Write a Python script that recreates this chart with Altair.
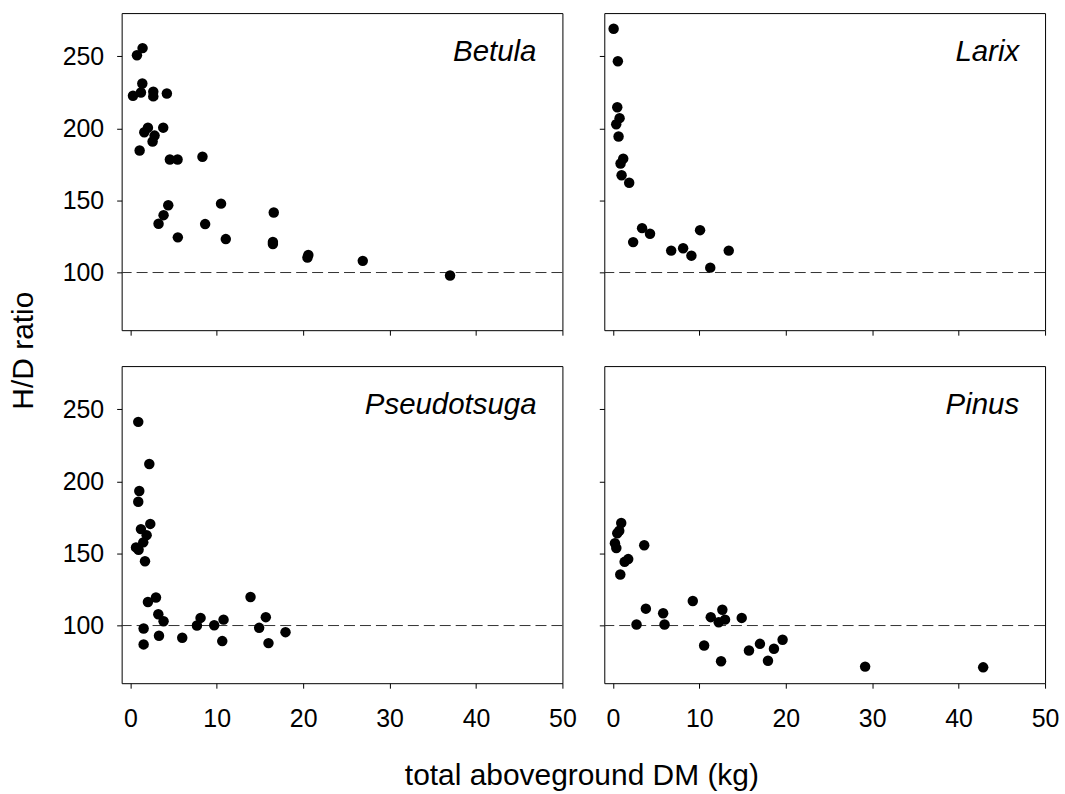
import altair as alt
import pandas as pd

# ---- data ----
betula_x = [0.77, 1.42, 1.39, 0.31, 1.23, 2.66, 2.66, 4.23, 2.04, 1.62, 3.81, 2.81, 2.58, 1.08,
            4.58, 5.47, 8.35, 4.39, 3.85, 3.27, 5.5, 8.66, 10.5, 11.05, 16.6, 16.5, 16.5,
            20.6, 20.5, 26.9, 37.0]
betula_y = [250.7, 255.7, 231.1, 222.6, 224.9, 225.4, 222.2, 224.2, 200.5, 197.3, 200.5, 195.0,
            190.9, 184.7, 178.4, 178.4, 180.3, 146.7, 139.8, 133.8, 124.4, 133.6, 147.8, 123.2,
            141.6, 121.2, 119.8, 112.2, 110.4, 108.1, 97.9]

larix_x = [0.08, 0.57, 0.5, 0.77, 0.38, 0.65, 1.19, 0.88, 1.0, 1.88, 3.37, 4.29, 2.34, 6.74,
           8.12, 9.08, 10.08, 11.26, 13.4]
larix_y = [269.1, 246.6, 214.7, 207.1, 202.9, 194.4, 179.0, 175.6, 167.5, 162.3, 130.8, 126.9,
           121.1, 115.2, 116.8, 111.7, 129.4, 103.4, 115.2]

pseudo_x = [0.92, 2.2, 1.04, 0.92, 2.31, 1.23, 1.89, 1.5, 0.66, 0.96, 1.7, 2.97, 2.04, 3.24,
            3.85, 1.54, 1.54, 3.32, 6.01, 7.71, 8.13, 9.71, 10.79, 10.64, 13.91, 15.68, 14.91,
            15.99, 17.96]
pseudo_y = [241.3, 212.1, 193.3, 185.9, 170.5, 166.9, 162.7, 157.7, 154.2, 152.6, 144.6, 119.5,
            116.3, 107.8, 103.0, 97.9, 86.9, 92.9, 91.5, 100.0, 105.3, 100.2, 104.1, 89.2,
            119.8, 105.8, 98.4, 87.8, 95.4]

pinus_x = [0.96, 0.73, 0.5, 0.23, 0.39, 3.62, 1.77, 1.35, 0.85, 3.81, 2.73, 5.81, 5.97, 9.24,
           11.32, 12.66, 12.24, 12.97, 14.9, 10.55, 12.51, 15.74, 17.01, 17.94, 18.63, 19.63,
           29.18, 42.84]
pinus_y = [171.1, 165.8, 164.0, 157.1, 153.8, 155.7, 146.1, 144.2, 135.4, 111.7, 100.7, 108.5,
           100.7, 117.0, 105.8, 111.0, 102.3, 104.1, 105.3, 86.2, 75.2, 82.7, 87.3, 75.6,
           83.9, 90.1, 71.5, 71.0]

species = ["Betula", "Larix", "Pseudotsuga", "Pinus"]
x_ticks = [0, 10, 20, 30, 40, 50]
y_ticks = [100, 150, 200, 250]
reference_line = [100]
x_title = "total aboveground DM (kg)"
y_title = "H/D ratio"

FONT = "Liberation Sans"
W, H = 442, 318


def panel(xs, ys, name, x_labels, y_labels, show_y_title=False, show_x_title=False):
    df = pd.DataFrame({"x": xs, "y": ys})
    xa = dict(values=x_ticks, labels=x_labels, labelFlush=False, labelPadding=18,
              tickSize=5, labelFontSize=25, grid=False, domain=False)
    ya = dict(values=y_ticks, labels=y_labels, labelPadding=13, tickSize=5, labelFontSize=25,
              grid=False, domain=False)
    if show_x_title:
        xa.update(title=x_title, titleX=461, titleY=93, titleBaseline="middle",
                  titleAlign="center", titleFontSize=30, titleFontWeight="normal")
    else:
        xa.update(title=None)
    if show_y_title:
        ya.update(title=y_title, titleX=-98, titleY=338, titleBaseline="middle",
                  titleAlign="center", titleAngle=270, titleFontSize=30,
                  titleFontWeight="normal")
    else:
        ya.update(title=None)

    xs_ = alt.Scale(domain=[-1, 50], nice=False, zero=False)
    ys_ = alt.Scale(domain=[60, 280], nice=False, zero=False)

    pts = alt.Chart(df).mark_circle(size=110, color="black", opacity=1).encode(
        x=alt.X("x:Q", scale=xs_, axis=alt.Axis(**xa)),
        y=alt.Y("y:Q", scale=ys_, axis=alt.Axis(**ya)),
    )
    rule = alt.Chart(pd.DataFrame({"ref": reference_line})).mark_rule(
        color="#333333", strokeWidth=1, strokeDash=[11, 5]
    ).encode(y="ref:Q")
    label = alt.Chart(pd.DataFrame({"label": [name]})).mark_text(
        align="right", baseline="alphabetic", fontStyle="italic", fontSize=29.5,
        font=FONT, color="black"
    ).encode(x=alt.value(416), y=alt.value(48), text="label:N")
    return alt.layer(rule, pts, label).properties(width=W, height=H)


p1 = panel(betula_x, betula_y, species[0], False, True, show_y_title=True)
p2 = panel(larix_x, larix_y, species[1], False, False)
p3 = panel(pseudo_x, pseudo_y, species[2], True, True, show_x_title=True)
p4 = panel(pinus_x, pinus_y, species[3], True, False)

chart = alt.concat(
    p1, p2, p3, p4, columns=2, spacing={"row": 36, "column": 42}, bounds="flush"
).properties(
    padding={"left": 8, "top": 11, "right": 5, "bottom": 0},
    background="white",
).configure_view(
    stroke="black", strokeWidth=1
).configure_axis(
    grid=False, domain=False, tickColor="black", labelColor="black", titleColor="black",
    labelFont=FONT, titleFont=FONT
)

chart.save("out.html", embed_options={"renderer": "svg", "actions": False})
